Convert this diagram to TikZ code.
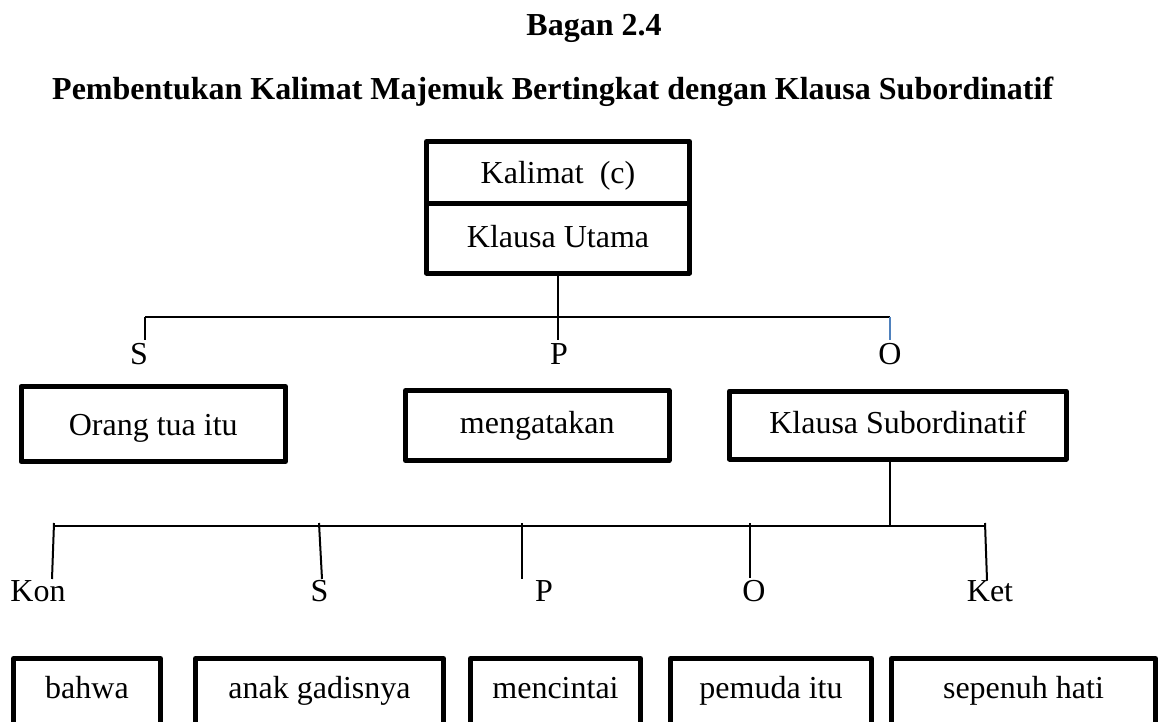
\documentclass[tikz,border=0pt]{standalone}
\usepackage{fontspec}
\setmainfont{Liberation Serif}
\definecolor{tickblue}{HTML}{4F81BD}
\tikzset{
  box/.style={draw, line width=5pt, line join=round, inner sep=0pt,
    minimum height=0pt, anchor=base, font=\fontsize{32}{38}\selectfont},
  lab/.style={inner sep=0pt, anchor=base, font=\fontsize{32}{38}\selectfont},
  headline/.style={inner sep=0pt, anchor=base, font=\fontsize{32}{38}\selectfont\bfseries},
  link/.style={line width=2pt},
  linkblue/.style={line width=2pt, draw=tickblue},
}
\begin{document}
\begin{tikzpicture}[x=1pt,y=-1pt]
\useasboundingbox (0,0) rectangle (1158,722);

% headings
\node[headline] (title) at (594,36) {Bagan 2.4};
\node[headline, anchor=base west] (subtitle) at (52,100)
  {Pembentukan Kalimat Majemuk Bertingkat dengan Klausa Subordinatif};

% main clause
\node[box, minimum width=263pt, text height=41.5pt, text depth=20.5pt] (kal) at (558,183) {Kalimat\ \ (c)};
\node[box, minimum width=263pt, text height=43.5pt, text depth=26pt] (uta) at (558,247) {Klausa Utama};

% first level
\coordinate (b1L) at (145,317);
\coordinate (b1R) at (890,317);
\coordinate (s1t) at (145,340);
\coordinate (p1t) at (558,340);
\coordinate (o1t) at (890,340);
\draw[link] (uta.south) -- (p1t);
\draw[link] (b1L) -- (b1R);
\draw[link] (b1L) -- (s1t);
\draw[linkblue] (b1R) -- (o1t);

\node[lab] (s1) at (139,364) {S};
\node[lab] (p1) at (559,364) {P};
\node[lab] (o1) at (890,364) {O};

\node[box, minimum width=264.5pt, text height=48.5pt, text depth=26.5pt] (orang) at (153.25,435) {Orang tua itu};
\node[box, minimum width=263.5pt, text height=42.5pt, text depth=27.5pt] (meng) at (537.25,433) {mengatakan};
\node[box, minimum width=336.5pt, text height=42pt, text depth=26pt] (ks) at (897.75,433) {Klausa Subordinatif};

% second level
\coordinate (b2L) at (53,526);
\coordinate (b2M) at (890,526);
\coordinate (b2R) at (985,526);
\draw[link] (ks.south -| b1R) -- (b2M);
\draw[link] (b2L) -- (b2R);

\coordinate (konT) at (54,523);  \coordinate (konB) at (52,579);
\coordinate (s2T) at (319,523);  \coordinate (s2B) at (322,579);
\coordinate (p2T) at (522,523);  \coordinate (p2B) at (522,579);
\coordinate (o2T) at (750,523);  \coordinate (o2B) at (750,578);
\coordinate (ketT) at (985,523); \coordinate (ketB) at (987,580);
\draw[link] (konT) -- (konB);
\draw[link] (s2T) -- (s2B);
\draw[link] (p2T) -- (p2B);
\draw[link] (o2T) -- (o2B);
\draw[link] (ketT) -- (ketB);

\node[lab] (kon) at (38,601.7) {Kon};
\node[lab] (s2) at (319.5,601.7) {S};
\node[lab] (p2) at (544,601.7) {P};
\node[lab] (o2) at (754,601.7) {O};
\node[lab] (ket) at (990,601.7) {Ket};

% constituent boxes (running off the lower edge)
\node[box, minimum width=147pt, text height=39.5pt, text depth=60pt] (bahwa) at (87,698) {bahwa};
\node[box, minimum width=248pt, text height=39.5pt, text depth=60pt] (anak) at (319.5,698) {anak gadisnya};
\node[box, minimum width=170pt, text height=39.5pt, text depth=60pt] (cinta) at (555.5,698) {mencintai};
\node[box, minimum width=201pt, text height=39.5pt, text depth=60pt] (pemuda) at (771,698) {pemuda itu};
\node[box, minimum width=264pt, text height=39.5pt, text depth=60pt] (hati) at (1023.5,698) {sepenuh hati};
\end{tikzpicture}
\end{document}
